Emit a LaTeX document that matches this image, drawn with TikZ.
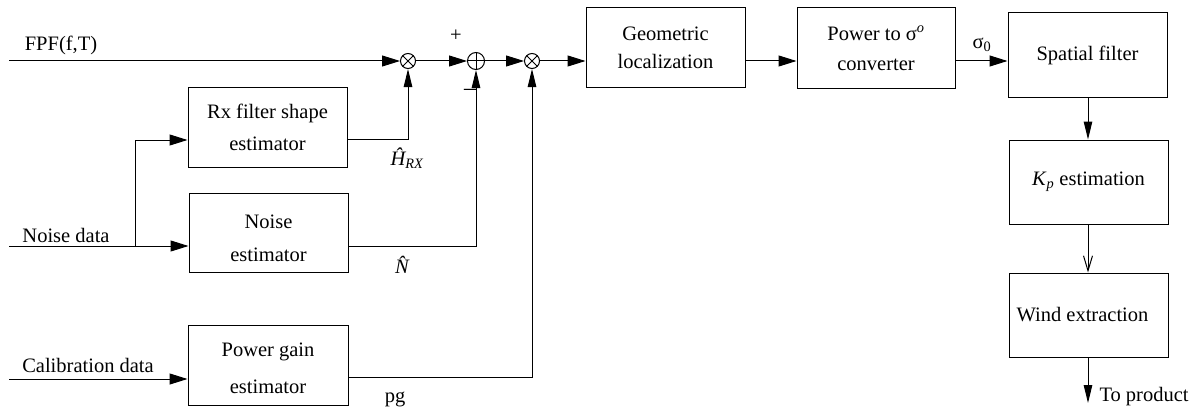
\documentclass[tikz,border=0pt]{standalone}
\usepackage{fontspec}
\setmainfont{Liberation Serif}
\usetikzlibrary{arrows.meta,calc}
\begin{document}
\begin{tikzpicture}[x=1pt,y=-1pt,
  line width=1pt,
  harrow/.style={-{Triangle[length=18pt,width=11pt]}},
  varrow/.style={-{Triangle[length=18pt,width=8.5pt]}},
  barb/.style={-{Straight Barb[length=15pt,width=9pt,line width=1pt]}},
  txt/.style={font=\fontsize{20.5}{24}\selectfont, inner sep=0pt},
  btxt/.style={align=center, inner sep=0pt, font=\fontsize{20.5}{33}\selectfont},
  block/.style={draw, align=center, inner sep=0pt, minimum width=159pt,
    font=\fontsize{20.5}{32}\selectfont},
  mult/.style={draw, circle, minimum size=15pt, inner sep=0pt,
    path picture={\draw (path picture bounding box.north west) -- (path picture bounding box.south east)
                        (path picture bounding box.north east) -- (path picture bounding box.south west);}},
  summ/.style={draw, circle, minimum size=17pt, inner sep=0pt,
    path picture={\draw (path picture bounding box.north) -- (path picture bounding box.south)
                        (path picture bounding box.west) -- (path picture bounding box.east);}}
]
\useasboundingbox (0,0) rectangle (1204,412);

% signal-processing blocks
\node[block, minimum height=80pt] (rx) at (267.5,127) {Rx filter shape\\estimator};
\node[block, minimum height=79pt] (noise) at (268.5,232.5) {};
\node[btxt] (noisetxt) at (268.5,238.5) {Noise\\estimator};
\node[block, minimum height=80pt, minimum width=160pt] (pg) at (268,365) {};
\node[btxt, font=\fontsize{20.5}{37}\selectfont] (pgtxt) at (268,368.5) {Power gain\\estimator};
\node[block, minimum height=79pt, font=\fontsize{20.5}{28}\selectfont] (geo) at (665.5,47.5) {Geometric\\localization};
\node[block, minimum height=80pt, minimum width=158pt, font=\fontsize{20.5}{30}\selectfont] (pow) at (876,48) {Power to σ\textsuperscript{\itshape o}\\converter};
\node[block, minimum height=84pt] (spat) at (1087.5,55) {Spatial filter};
\node[block, minimum height=84pt] (kp) at (1088.5,182) {\textit{K}\textsubscript{\textit{p}} estimation};
\node[block, minimum height=84pt] (wind) at (1088.5,315) {\hspace*{-12pt}Wind extraction};

% combiners
\node[mult] (m1) at (408,61) {};
\node[summ] (s) at (476,61) {};
\node[mult] (m2) at (532,61) {};

% inputs and branch points
\coordinate (fpf) at (9,61);
\coordinate (nd) at (9,246);
\coordinate (cal) at (9,379);
\coordinate (br) at (135,246);
\coordinate (brup) at (135,140);
\coordinate (out) at (1088,403);

% labels
\node[txt] (lfpf) at (61,45) {FPF(f,T)};
\node[txt] (lnd) at (66,235) {Noise data};
\node[txt] (lcal) at (88,365) {Calibration data};
\node[txt] (lplus) at (456,36) {+};
\node[txt, font=\fontsize{24}{28}\selectfont] (lminus) at (470,92) {–};
\node[txt] (lh) at (407,158) {\itshape Ĥ\textsubscript{RX}};
\node[txt] (ln) at (402,265) {\itshape \^{N}};
\node[txt] (lpg) at (395,399) {pg};
\node[txt] (lsig) at (982,45) {σ\textsubscript{0}};
\node[txt, anchor=west] (lout) at (1099,397) {To product};

% connectors
\draw[harrow] (fpf) -- (m1);
\draw[harrow] (m1) -- (s);
\draw[harrow] (s) -- (m2);
\draw[harrow] (m2) -- (m2 -| geo.west);
\draw[harrow] (geo.east |- m2) -- (pow.west |- m2);
\draw[harrow] (pow.east |- m2) -- (spat.west |- m2);
\draw[varrow] (spat.south -| out) -- (kp.north -| out);
\draw[barb] (kp.south -| out) -- (wind.north -| out);
\draw[varrow] (wind.south -| out) -- (out);

\draw[harrow] (nd) -- (noise.west |- nd);
\draw[harrow] (br) -- (brup) -- (rx.west |- brup);
\draw[harrow] (cal) -- (pg.west |- cal);

\draw[varrow] (rx.east |- 0,139) -| (m1);
\draw[varrow] (noise.east |- nd) -| (s);
\draw[varrow] (pg.east |- 0,377) -| (m2);
\end{tikzpicture}
\end{document}
